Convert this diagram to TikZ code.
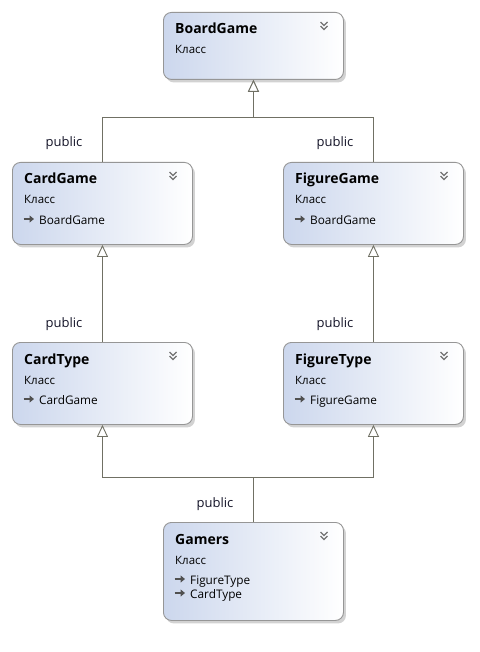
\documentclass[tikz,border=0pt]{standalone}
\usepackage{fontspec}
\setmainfont{Open Sans}
\usetikzlibrary{arrows.meta,shadows}
\definecolor{boxleft}{RGB}{204,215,237}
\definecolor{boxborder}{RGB}{150,150,150}
\definecolor{connc}{RGB}{112,112,100}
\definecolor{chevc}{RGB}{115,115,115}
\definecolor{lblc}{RGB}{20,20,40}
\definecolor{iconc}{RGB}{80,80,80}
\tikzset{
  classbox/.style={draw=boxborder, line width=0.9pt, rounded corners=8pt,
    left color=boxleft, right color=white, minimum width=180pt, anchor=north west,
    inner sep=0pt, drop shadow={shadow xshift=2.5pt, shadow yshift=-3pt, opacity=0.35}},
  titletext/.style={anchor=base west, font=\fontsize{14}{16}\selectfont\bfseries, inner sep=0pt},
  kindtext/.style={anchor=base west, font=\fontsize{11.5}{13}\selectfont, inner sep=0pt},
  itemtext/.style={anchor=base west, font=\fontsize{11.8}{13}\selectfont, inner sep=0pt},
  connline/.style={draw=connc, line width=0.9pt},
  inh/.style={connline, -{Triangle[open, length=12pt, width=11pt, fill=white]}},
  lbltext/.style={font=\fontsize{13}{15}\selectfont, text=lblc, anchor=base, inner sep=0pt},
  chevron/.pic={
    \draw[chevc, line width=1.3pt] (-3.5,-4) -- (0,-0.5) -- (3.5,-4);
    \draw[chevc, line width=1.3pt] (-3.5,0) -- (0,3.5) -- (3.5,0);
  },
  inhicon/.pic={
    \draw[iconc, line width=2pt, -{Triangle[length=4.5pt, width=7pt]}] (-5.5,0) -- (5,0);
  }
}
\begin{document}
\begin{tikzpicture}[x=1pt, y=-1pt]
\fill[white] (0,0) rectangle (479,652);
\useasboundingbox (0,0) rectangle (479,652);

% boxes
\node[classbox, minimum height=67pt] (boardgame) at (163,12) {};
\node[classbox, minimum height=82pt] (cardgame) at (12,162) {};
\node[classbox, minimum height=82pt] (figuregame) at (283,162) {};
\node[classbox, minimum height=82pt] (cardtype) at (12,342) {};
\node[classbox, minimum height=82pt] (figuretype) at (283,342) {};
\node[classbox, minimum height=98pt] (gamers) at (163,522) {};

% BoardGame
\node[titletext] (bgT) at (175,34) {BoardGame};
\node[kindtext] (bgK) at (175,54) {Класс};
\pic at (324,26) {chevron};

% CardGame
\node[titletext] (cgT) at (24,184) {CardGame};
\node[kindtext] (cgK) at (24,204) {Класс};
\pic at (29,219) {inhicon};
\node[itemtext] (cgI) at (39,224) {BoardGame};
\pic at (173,176) {chevron};

% FigureGame
\node[titletext] (fgT) at (295,184) {FigureGame};
\node[kindtext] (fgK) at (295,204) {Класс};
\pic at (300,219) {inhicon};
\node[itemtext] (fgI) at (310,224) {BoardGame};
\pic at (444,176) {chevron};

% CardType
\node[titletext] (ctT) at (24,364) {CardType};
\node[kindtext] (ctK) at (24,384) {Класс};
\pic at (29,399) {inhicon};
\node[itemtext] (ctI) at (39,404) {CardGame};
\pic at (173,356) {chevron};

% FigureType
\node[titletext] (ftT) at (295,364) {FigureType};
\node[kindtext] (ftK) at (295,384) {Класс};
\pic at (300,399) {inhicon};
\node[itemtext] (ftI) at (310,404) {FigureGame};
\pic at (444,356) {chevron};

% Gamers
\node[titletext] (gmT) at (175,544) {Gamers};
\node[kindtext] (gmK) at (175,564) {Класс};
\pic at (180,579) {inhicon};
\node[itemtext] (gmI1) at (190,584) {FigureType};
\pic at (180,593) {inhicon};
\node[itemtext] (gmI2) at (190,598) {CardType};
\pic at (324,536) {chevron};

% connectors
\draw[inh] (cardgame.north) -- ++(0,-45) -| (boardgame.south);
\draw[inh] (figuregame.north) -- ++(0,-45) -| (boardgame.south);
\draw[inh] (cardtype.north) -- (cardgame.south);
\draw[inh] (figuretype.north) -- (figuregame.south);
\draw[inh] (gamers.north) -- ++(0,-45) -| (cardtype.south);
\draw[inh] (gamers.north) -- ++(0,-45) -| (figuretype.south);

% labels
\node[lbltext] (l1) at (64,147) {public};
\node[lbltext] (l2) at (335,147) {public};
\node[lbltext] (l3) at (64,327) {public};
\node[lbltext] (l4) at (335,327) {public};
\node[lbltext] (l5) at (215,507) {public};
\end{tikzpicture}
\end{document}
